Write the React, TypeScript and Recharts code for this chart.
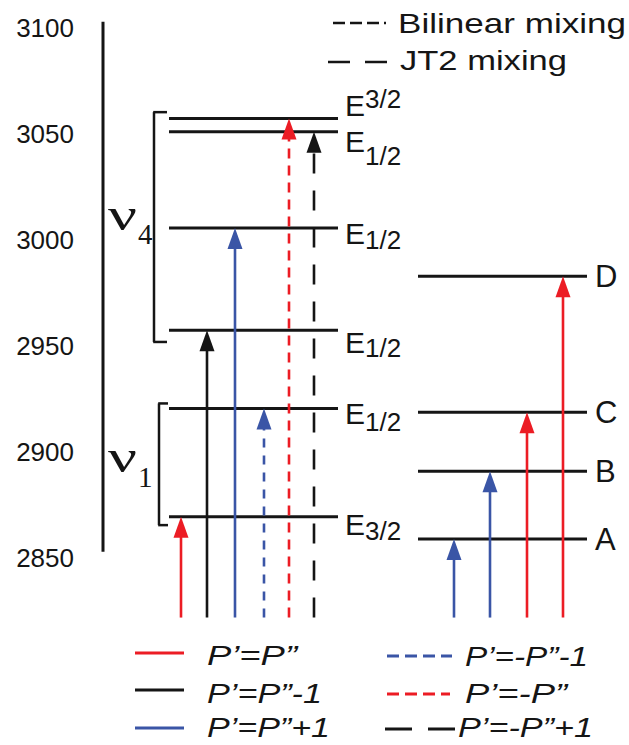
import { ComposedChart, XAxis, YAxis, ReferenceLine, Scatter } from "recharts";

// energy axis (cm-1)
const yTicks = [2850, 2900, 2950, 3000, 3050, 3100];
const axisRange = [2853, 3103];

// left column: nu4 / nu1 sublevels
const leftLevels = [3057.4, 3051.1, 3005.8, 2957.5, 2920.6, 2869.5];
const leftSubs = ["3/2", "1/2", "1/2", "1/2", "1/2", "3/2"];

// right column: observed bands
const rightLevels = [2983.0, 2918.9, 2891.0, 2859.0];
const rightNames = ["D", "C", "B", "A"];

// brackets grouping the sublevels
const bracketNames = ["4", "1"];
const bracketLo = [2952.0, 2865.6];
const bracketHi = [3060.4, 2923.0];

// transitions
const arrowStart = 2822;
const kinds = ["P’=P”", "P’=P”-1", "P’=P”+1", "P’=-P”-1", "P’=-P”", "P’=-P”+1"];
const leftArrowTargets = [2869.5, 2957.5, 3005.8, 2920.6, 3057.4, 3051.1];
const leftArrowKinds = [0, 1, 2, 3, 4, 5];
const rightArrowTargets = [2859.0, 2891.0, 2918.9, 2983.0];
const rightArrowKinds = [2, 2, 0, 0];

// ---- layout / style ----
const RED = "#ec1c24";
const BLUE = "#3a55a6";
const BLACK = "#151515";
const SANS = "'Liberation Sans', Arial, sans-serif";
const SERIF = "'Liberation Serif', 'Times New Roman', serif";

const kindStyle = [
  { color: RED, dash: undefined, legDash: undefined },
  { color: BLACK, dash: undefined, legDash: undefined },
  { color: BLUE, dash: undefined, legDash: undefined },
  { color: BLUE, dash: "9 8", legDash: "12 6" },
  { color: RED, dash: "10 7", legDash: "12 6" },
  { color: BLACK, dash: "20 17", legDash: "27 16" },
];

const leftSpan = [66, 235];
const rightSpan = [315, 484];
const leftArrowX = [78, 104, 132, 161, 186, 211];
const rightArrowX = [351, 387, 424, 460];
const bracketX = [51, 56];
const bracketTick = [64, 65];
const eDy = [-3, 20, 16, 23, 15, 18];
const subDy = [-8, 13, 5, 4, 7, 5];
const nuDy = [3, 8];
const nuSubDy = [14, 15];

const legendPos = [
  { x1: 135, x2: 184, y: 653, tx: 207, ty: 665, len: 90 },
  { x1: 135, x2: 184, y: 690, tx: 207, ty: 703, len: 115 },
  { x1: 135, x2: 184, y: 728, tx: 207, ty: 737, len: 123 },
  { x1: 387, x2: 452, y: 656, tx: 465, ty: 666, len: 123 },
  { x1: 387, x2: 450, y: 694, tx: 465, ty: 703, len: 102 },
  { x1: 385, x2: 455, y: 729, tx: 458, ty: 737, len: 135 },
];

const arrows = [
  ...leftArrowTargets.map((t, i) => ({ x: leftArrowX[i], y: t, k: leftArrowKinds[i] })),
  ...rightArrowTargets.map((t, i) => ({ x: rightArrowX[i], y: t, k: rightArrowKinds[i] })),
];

const leftLabelData = leftLevels.map((v, i) => ({ x: leftSpan[1], y: v, i }));
const rightLabelData = rightLevels.map((v, i) => ({ x: rightSpan[1], y: v, i }));
const nuData = bracketNames.map((n, i) => ({ x: bracketX[i], y: (bracketLo[i] + bracketHi[i]) / 2, i }));

const ArrowHead = (props: any) => {
  const { cx, cy, payload } = props;
  const c = kindStyle[payload.k].color;
  return <polygon points={`${cx},${cy} ${cx - 7.5},${cy + 21} ${cx + 7.5},${cy + 21}`} fill={c} />;
};

const LeftLabel = (props: any) => {
  const { cx, cy, payload } = props;
  const i = payload.i;
  return (
    <text x={cx + 7} y={cy + eDy[i]} fontFamily={SANS} fontSize={30} fill={BLACK}>
      E
      <tspan fontSize={26} dy={subDy[i]}>
        {leftSubs[i]}
      </tspan>
    </text>
  );
};

const RightLabel = (props: any) => {
  const { cx, cy, payload } = props;
  return (
    <text x={cx + 8} y={cy + 11} fontFamily={SANS} fontSize={31} fill={BLACK}>
      {rightNames[payload.i]}
    </text>
  );
};

const NuLabel = (props: any) => {
  const { cy, payload } = props;
  const i = payload.i;
  const base = cy + nuDy[i];
  return (
    <g>
      <text x={108} y={base} fontFamily={SERIF} fontSize={46} fill={BLACK} textLength={29} lengthAdjust="spacingAndGlyphs">
        ν
      </text>
      <text x={138} y={base + nuSubDy[i]} fontFamily={SERIF} fontSize={29} fill={BLACK}>
        {bracketNames[i]}
      </text>
    </g>
  );
};

export default function App() {
  return (
    <div style={{ position: "absolute", left: 0, top: 0, width: 629, height: 745, background: "#fff" }}>
      <ComposedChart width={629} height={745} margin={{ top: 7, right: 0, bottom: 102, left: 0 }}>
        <XAxis type="number" dataKey="x" domain={[0, 526]} hide allowDataOverflow />
        <YAxis
          type="number"
          domain={[2810, 3110]}
          ticks={yTicks}
          interval={0}
          width={103}
          tickLine={false}
          axisLine={false}
          tickSize={0}
          tickMargin={29}
          allowDataOverflow
          tick={{ fill: BLACK, fontSize: 26, fontFamily: SANS }}
        />

        {/* vertical energy axis */}
        <ReferenceLine
          segment={[{ x: 0, y: axisRange[0] }, { x: 0, y: axisRange[1] }]}
          stroke={BLACK}
          strokeWidth={3}
        />

        {/* brackets */}
        {bracketNames.map((n, i) => (
          <ReferenceLine
            key={"bv" + n}
            segment={[{ x: bracketX[i], y: bracketLo[i] }, { x: bracketX[i], y: bracketHi[i] }]}
            stroke={BLACK}
            strokeWidth={2.5}
          />
        ))}
        {bracketNames.map((n, i) =>
          [bracketLo[i], bracketHi[i]].map((v, j) => (
            <ReferenceLine
              key={"bt" + n + j}
              segment={[{ x: bracketX[i] - 0.8, y: v }, { x: bracketTick[i], y: v }]}
              stroke={BLACK}
              strokeWidth={2.5}
            />
          ))
        )}

        {/* energy levels */}
        {leftLevels.map((v, i) => (
          <ReferenceLine
            key={"l" + i}
            segment={[{ x: leftSpan[0], y: v }, { x: leftSpan[1], y: v }]}
            stroke={BLACK}
            strokeWidth={3}
          />
        ))}
        {rightLevels.map((v, i) => (
          <ReferenceLine
            key={"r" + i}
            segment={[{ x: rightSpan[0], y: v }, { x: rightSpan[1], y: v }]}
            stroke={BLACK}
            strokeWidth={3}
          />
        ))}

        {/* arrow shafts */}
        {arrows.map((a, i) => (
          <ReferenceLine
            key={"a" + i}
            segment={[{ x: a.x, y: arrowStart }, { x: a.x, y: a.y - 6 }]}
            stroke={kindStyle[a.k].color}
            strokeWidth={2.6}
            strokeDasharray={kindStyle[a.k].dash}
          />
        ))}

        <Scatter data={arrows} dataKey="y" shape={<ArrowHead />} isAnimationActive={false} />
        <Scatter data={leftLabelData} dataKey="y" shape={<LeftLabel />} isAnimationActive={false} />
        <Scatter data={rightLabelData} dataKey="y" shape={<RightLabel />} isAnimationActive={false} />
        <Scatter data={nuData} dataKey="y" shape={<NuLabel />} isAnimationActive={false} />

        {/* legends */}
        <g>
          <line x1={333} x2={386} y1={23} y2={23} stroke={BLACK} strokeWidth={2.5} strokeDasharray="12 5" />
          <text x={398} y={33} fontFamily={SANS} fontSize={28} fill={BLACK} textLength={228} lengthAdjust="spacingAndGlyphs">
            Bilinear mixing
          </text>
          <line x1={328} x2={388} y1={62} y2={62} stroke={BLACK} strokeWidth={2.5} strokeDasharray="22 15" />
          <text x={400} y={70} fontFamily={SANS} fontSize={28} fill={BLACK} textLength={167} lengthAdjust="spacingAndGlyphs">
            JT2 mixing
          </text>
          {kinds.map((k, i) => {
            const p = legendPos[i];
            const s = kindStyle[i];
            return (
              <g key={"lg" + i}>
                <line x1={p.x1} x2={p.x2} y1={p.y} y2={p.y} stroke={s.color} strokeWidth={3} strokeDasharray={s.legDash} />
                <text
                  x={p.tx}
                  y={p.ty}
                  fontFamily={SANS}
                  fontStyle="italic"
                  fontSize={28}
                  fill={BLACK}
                  textLength={p.len}
                  lengthAdjust="spacingAndGlyphs"
                >
                  {k}
                </text>
              </g>
            );
          })}
        </g>
      </ComposedChart>
    </div>
  );
}
